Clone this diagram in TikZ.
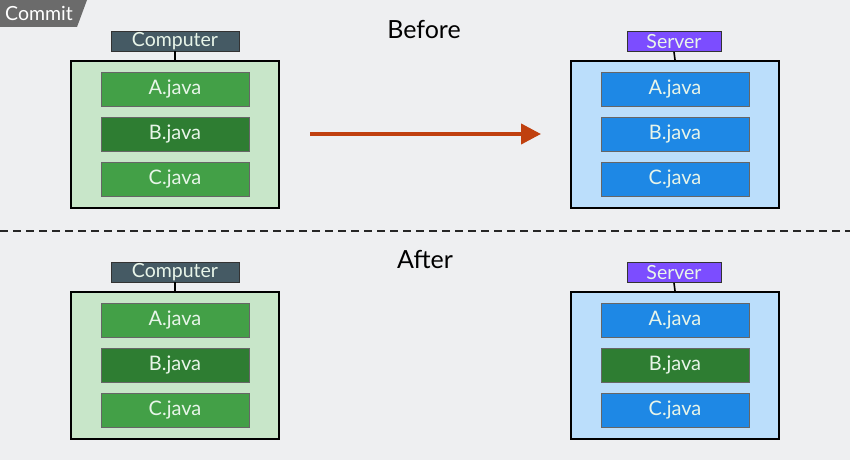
\documentclass[tikz,border=0pt]{standalone}
\usepackage{fontspec}
\setmainfont{Lato}
\usetikzlibrary{arrows.meta}
\definecolor{bg}{HTML}{EEEFF1}
\definecolor{tagc}{HTML}{6B6B6B}
\definecolor{complbl}{HTML}{455A64}
\definecolor{servlbl}{HTML}{7C4DFF}
\definecolor{compbox}{HTML}{C8E6C9}
\definecolor{servbox}{HTML}{BBDEFB}
\definecolor{gfile}{HTML}{43A047}
\definecolor{dgfile}{HTML}{2E7D32}
\definecolor{bfile}{HTML}{1E88E5}
\definecolor{arrc}{HTML}{C0400F}
\definecolor{ftext}{HTML}{E8F5E9}
\tikzset{
  lbl/.style={draw=black!80, line width=0.8pt, text=ftext, minimum width=#1, minimum height=20pt, inner sep=0pt, font=\fontsize{19.5}{19.5}\selectfont},
  container/.style={draw=black, line width=2pt, minimum width=208pt, minimum height=147pt, inner sep=0pt},
  file/.style={draw=black!60, line width=0.6pt, fill=#1, minimum width=148pt, minimum height=34pt, inner sep=0pt, text=ftext, font=\fontsize{20}{20}\selectfont},
  title/.style={font=\fontsize{25}{25}\selectfont, text=black}
}
\begin{document}
\begin{tikzpicture}[x=1pt,y=-1pt]
\fill[bg] (0,0) rectangle (850,460);
\useasboundingbox (0,0) rectangle (850,460);
% commit tag
\fill[tagc] (0,0) -- (87,0) -- (77,27) -- (0,27) -- cycle;
\node[text=white, font=\fontsize{19.5}{19.5}\selectfont, anchor=center] (commit) at (39,13) {Commit};
% titles
\node[title] (before) at (424,29) {Before};
\node[title] (after) at (425,260) {After};
% arrow
\coordinate (as) at (310,134);
\coordinate (ae) at (541,134);
\draw[arrc, line width=4pt, -{Triangle[length=20pt,width=20pt]}] (as) -- (ae);
% dashed line
\coordinate (dl) at (0,231);
\coordinate (dr) at (850,231);
\draw[black!85, line width=1.6pt, dash pattern=on 8pt off 5pt] (dl) -- (dr);

% ---------- Before ----------
\node[container, fill=compbox] (c1) at (175,134.5) {};
\node[lbl=128pt, fill=complbl] (cl1) at (175,41) {Computer};
\draw[black, line width=1.6pt] (cl1.south) -- (c1.north);
\node[file=gfile] (c1a) at (175,89) {A.java};
\node[file=dgfile] (c1b) at (175,134) {B.java};
\node[file=gfile] (c1c) at (175,179) {C.java};

\node[container, fill=servbox] (s1) at (675,134.5) {};
\node[lbl=94pt, fill=servlbl] (sl1) at (674,41.5) {Server};
\draw[black, line width=1.6pt] (sl1.south) -- (s1.north);
\node[file=bfile] (s1a) at (675,89) {A.java};
\node[file=bfile] (s1b) at (675,134) {B.java};
\node[file=bfile] (s1c) at (675,179) {C.java};

% ---------- After ----------
\node[container, fill=compbox] (c2) at (175,365.5) {};
\node[lbl=128pt, fill=complbl] (cl2) at (175,272) {Computer};
\draw[black, line width=1.6pt] (cl2.south) -- (c2.north);
\node[file=gfile] (c2a) at (175,320) {A.java};
\node[file=dgfile] (c2b) at (175,365) {B.java};
\node[file=gfile] (c2c) at (175,410) {C.java};

\node[container, fill=servbox] (s2) at (675,365.5) {};
\node[lbl=94pt, fill=servlbl] (sl2) at (674,272.5) {Server};
\draw[black, line width=1.6pt] (sl2.south) -- (s2.north);
\node[file=bfile] (s2a) at (675,320) {A.java};
\node[file=dgfile] (s2b) at (675,365) {B.java};
\node[file=bfile] (s2c) at (675,410) {C.java};
\end{tikzpicture}
\end{document}
